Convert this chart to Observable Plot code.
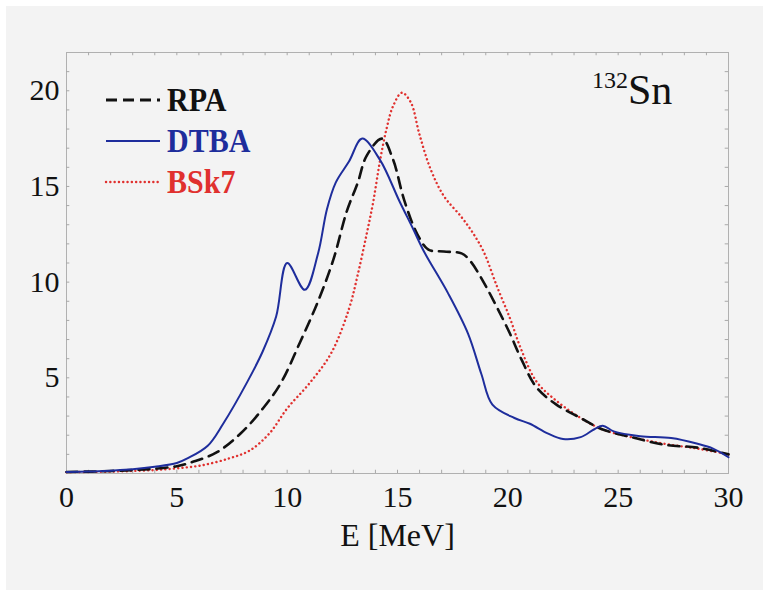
<!DOCTYPE html>
<html><head><meta charset="utf-8">
<script src="https://cdn.jsdelivr.net/npm/d3@7"></script>
<script src="https://cdn.jsdelivr.net/npm/@observablehq/plot@0.6"></script>
<style>
body{margin:0;background:#fff;}
#wrap{position:relative;width:769px;height:595px;overflow:hidden;}
#bg{position:absolute;left:6px;top:6px;width:757px;height:584px;background:#f3f3f3;}
#chart{position:absolute;left:0;top:0;}
.leg{position:absolute;left:104px;height:34px;display:flex;align-items:center;font-family:"Liberation Serif",serif;font-weight:bold;font-size:30px;white-space:nowrap;}
.leg svg{margin-right:5px;}
.leg span{display:inline-block;transform:scaleY(1.12);}
#nuc{position:absolute;left:592px;top:66px;font-family:"Liberation Serif",serif;color:#111;white-space:nowrap;}
#nuc sup{font-size:24px;vertical-align:0;position:relative;top:-16px;}
#nuc span{font-size:42px;}
</style></head>
<body><div id="wrap"><div id="bg"></div><div id="chart"></div>
<div id="nuc"><sup>132</sup><span>Sn</span></div>
</div>
<script>
// Series names, styles for legend
const seriesNames = ["RPA", "DTBA", "BSk7"];
const seriesColors = ["#111111", "#1e2d9c", "#e0302e"];

// RPA (dashed black)
const rpaE = [0,1,2,3,4,5,5.7,6.8,7.9,8.9,9.7,10.6,11.4,12.1,12.7,13.2,13.6,14.3,14.8,15.3,15.9,16.4,17.1,17.9,18.3,18.9,19.5,20.1,20.6,21.3,22.2,23.3,24.3,25.6,27.1,28.6,30];
const rpaV = [0.08,0.1,0.13,0.18,0.25,0.38,0.6,1.1,2.1,3.4,4.7,6.9,9.0,11.2,13.7,15.2,16.6,17.5,16.4,14.3,12.5,11.7,11.6,11.5,11.1,10.0,8.7,7.3,6.0,4.5,3.6,2.9,2.3,1.9,1.5,1.35,1.0];

// DTBA (solid blue)
const dtbaE = [0,1,2,3,4,5,5.5,6.4,7.1,8.2,8.9,9.5,10.0,10.8,11.4,11.8,12.2,12.8,13.4,14.2,15.1,15.7,16.2,17.3,18.2,18.8,19.3,20.3,21.0,21.8,22.5,23.3,23.9,24.3,24.8,26,27.4,28.6,29.3,30];
const dtbaV = [0.08,0.1,0.15,0.22,0.35,0.55,0.8,1.45,2.6,4.8,6.4,8.2,11.0,9.6,11.5,13.8,15.2,16.3,17.5,16.4,14.2,12.8,11.6,9.4,7.3,5.2,3.6,2.9,2.6,2.1,1.8,1.9,2.3,2.5,2.2,1.95,1.85,1.55,1.3,0.85];

// BSk7 (dotted red)
const bskE = [0,1,2,3,4,5,6.1,7.4,8.3,9.2,10.0,11.0,12.0,12.8,13.2,13.6,13.9,14.2,14.5,14.8,15.2,15.6,16.0,16.5,17.1,17.9,18.4,18.9,19.5,20.1,20.6,21.3,22.2,23.3,24.3,25.6,27.1,28.6,30];
const bskV = [0.07,0.08,0.1,0.13,0.18,0.27,0.42,0.8,1.2,2.1,3.4,4.7,6.3,8.6,10.4,12.5,14.2,16.3,18.0,19.2,19.9,19.4,17.7,15.9,14.5,13.4,12.6,11.6,9.8,8.1,6.5,4.8,3.8,2.9,2.3,1.9,1.55,1.3,1.0];

const xTicks = [0,5,10,15,20,25,30];
const yTicks = [5,10,15,20];
const minorX = d3.range(1,30);
const minorY = d3.range(1,22);

const toRows = (E,V)=>E.map((e,i)=>({E:e, v:V[i]}));
const rpa = toRows(rpaE,rpaV), dtba = toRows(dtbaE,dtbaV), bsk = toRows(bskE,bskV);

const tickStroke = "#a8a8a8";
const chart = Plot.plot({
  width: 769, height: 595,
  marginLeft: 66, marginRight: 41, marginTop: 52, marginBottom: 122,
  style: {background: "transparent", fontFamily: "'Liberation Serif', serif", color: "#111"},
  x: {domain: [0,30]},
  y: {domain: [0,22]},
  marks: [
    Plot.frame({stroke: "#b0b0b0", strokeWidth: 1}),
    Plot.ruleX(minorX, {x: d=>d, y1: 0, y2: 0.17, stroke: tickStroke}),
    Plot.ruleX(minorX, {x: d=>d, y1: 22, y2: 21.83, stroke: tickStroke}),
    Plot.ruleY(minorY, {y: d=>d, x1: 0, x2: 0.15, stroke: tickStroke}),
    Plot.ruleY(minorY, {y: d=>d, x1: 30, x2: 29.85, stroke: tickStroke}),
    Plot.axisX({ticks: xTicks, tickSize: 0, tickPadding: 12, fontSize: 30, label: null, tickFormat: d=>String(d)}),
    Plot.axisY({ticks: yTicks, tickSize: 0, tickPadding: 7, fontSize: 30, label: null}),
    Plot.line(bsk, {x: "E", y: "v", stroke: seriesColors[2], strokeWidth: 2.4, strokeDasharray: "0.1,4.2", strokeLinecap: "round", curve: "catmull-rom"}),
    Plot.line(rpa, {x: "E", y: "v", stroke: seriesColors[0], strokeWidth: 2.6, strokeDasharray: "11,7", curve: "catmull-rom"}),
    Plot.line(dtba, {x: "E", y: "v", stroke: seriesColors[1], strokeWidth: 2, curve: "catmull-rom"}),
    Plot.text(["E [MeV]"], {frameAnchor: "bottom", dy: 72, fontSize: 32, fill: "#111"})
  ]
});
document.getElementById("chart").appendChild(chart);

// Legend
const dashes = ["11,6", null, "0.1,4.2"];
const widths = [2.8, 2.2, 2.4];
const tops = [83, 124, 165];
const wrap = d3.select("#wrap");
seriesNames.forEach((name,i)=>{
  const row = wrap.append("div").attr("class","leg").style("top", tops[i]+"px").style("color", seriesColors[i]);
  const s = row.append("svg").attr("width",58).attr("height",10);
  const ln = s.append("line").attr("x1",2).attr("x2",56).attr("y1",5).attr("y2",5)
    .attr("stroke",seriesColors[i]).attr("stroke-width",widths[i]);
  if (dashes[i]) ln.attr("stroke-dasharray",dashes[i]);
  if (i===2) ln.attr("stroke-linecap","round");
  row.append("span").text(name);
});
</script>
</body></html>
